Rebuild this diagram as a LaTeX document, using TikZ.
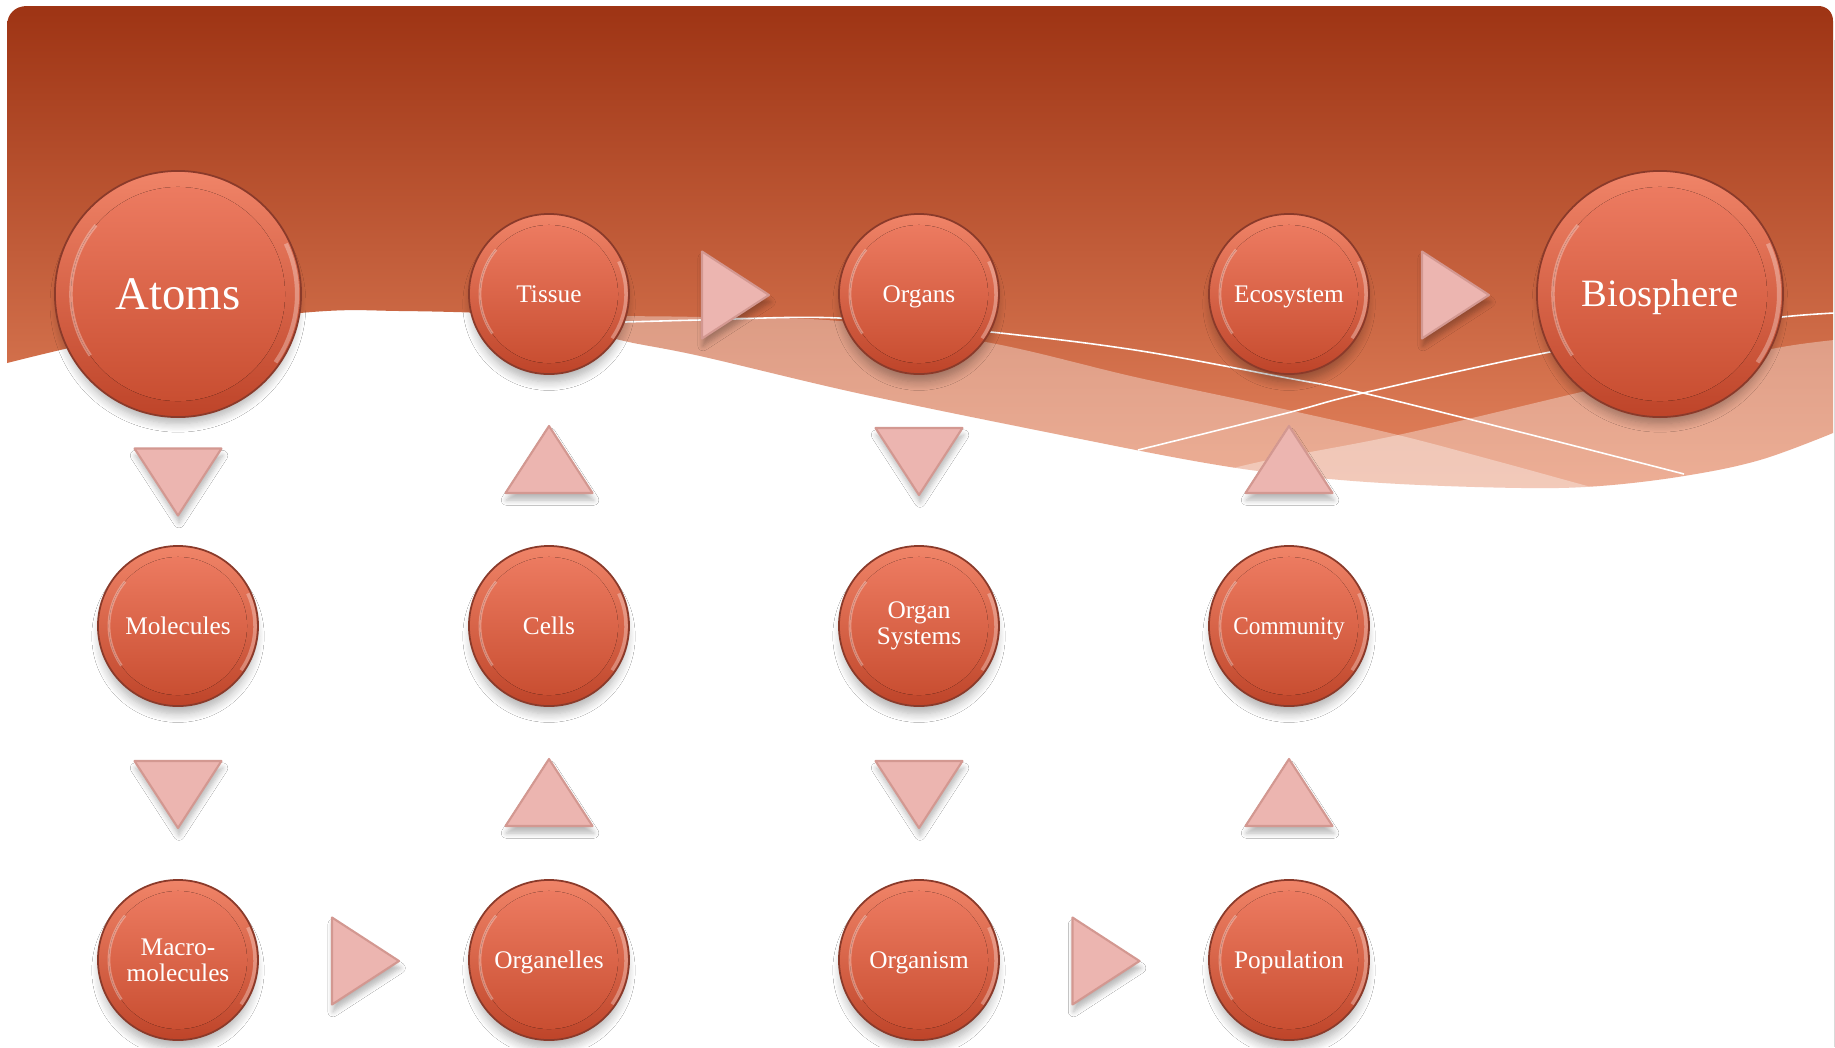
\documentclass[tikz,border=0pt]{standalone}
\usepackage{fontspec}
\setmainfont{Liberation Serif}
\usetikzlibrary{shadows.blur}
\definecolor{bandTop}{HTML}{9E3414}
\definecolor{bandBot}{HTML}{E4845E}
\definecolor{ballTop}{HTML}{F08468}
\definecolor{ballBot}{HTML}{BE4429}
\definecolor{ballEdge}{HTML}{8A3A2A}
\definecolor{inTop}{HTML}{EF7E64}
\definecolor{inBot}{HTML}{C64B2E}
\definecolor{triFill}{HTML}{ECB5B0}
\definecolor{triEdge}{HTML}{D39891}
\begin{document}
\begin{tikzpicture}[x=0.01cm, y=-0.01cm,
  ball/.style={circle, draw=ballEdge, line width=0.5pt, top color=ballTop, bottom color=ballBot,
    text=white, align=center, inner sep=0pt,
    blur shadow={shadow xshift=0pt, shadow yshift=-3pt, shadow scale=0.97, shadow blur radius=2.5pt, shadow blur steps=8, shadow opacity=30}},
  smallball/.style={ball, minimum size=1.6cm, font=\fontsize{7.2}{7.3}\selectfont,
    path picture={
      \fill[top color=inTop, bottom color=inBot] (path picture bounding box.center) circle[radius=0.69cm];
      \draw[white, opacity=0.3, line width=0.8pt] (path picture bounding box.center) ++(140:0.69cm) arc[start angle=140, end angle=215, radius=0.69cm];
      \draw[white, opacity=0.3, line width=1pt] (path picture bounding box.center) ++(-35:0.77cm) arc[start angle=-35, end angle=25, radius=0.77cm];
    }},
  bigball/.style={ball, minimum size=2.46cm,
    path picture={
      \fill[top color=inTop, bottom color=inBot] (path picture bounding box.center) circle[radius=1.07cm];
      \draw[white, opacity=0.3, line width=1pt] (path picture bounding box.center) ++(140:1.07cm) arc[start angle=140, end angle=215, radius=1.07cm];
      \draw[white, opacity=0.3, line width=1.2pt] (path picture bounding box.center) ++(-35:1.19cm) arc[start angle=-35, end angle=25, radius=1.19cm];
    }},
  oneline/.style={text height=4.8pt, text depth=0pt},
  tri/.style={fill=triFill, draw=triEdge, line width=0.6pt, line join=round,
    blur shadow={shadow xshift=0.3pt, shadow yshift=-2pt, shadow blur radius=1.5pt, shadow blur steps=6, shadow opacity=28}},
  triright/.pic={\path[tri] (-33.5,-43.5) -- (33.5,0) -- (-33.5,43.5) -- cycle;},
  tridown/.pic={\path[tri] (-43.5,-33.5) -- (43.5,-33.5) -- (0,33.5) -- cycle;},
  triup/.pic={\path[tri] (-43.5,33.5) -- (43.5,33.5) -- (0,-33.5) -- cycle;},
  wline/.style={white, line width=0.45pt},
  veil/.style={fill=white, fill opacity=0.35}
]
\useasboundingbox (0,0) rectangle (1835,1047);
\fill[white] (0,0) rectangle (1835,1047);

% orange header wave
\path[top color=bandTop, bottom color=bandBot]
  (7,363) -- (7,26) .. controls (7,14) and (15,6) .. (27,6)
  -- (1818,6) .. controls (1827,6) and (1833,12) .. (1833,21)
  -- (1833,433)
  -- plot[smooth, tension=0.6] coordinates {(1833,433) (1760,460) (1684,476) (1600,486) (1523,488) (1400,484) (1300,476) (1200,462) (1036,430) (857,393) (700,356) (620,340) (560,322) (500,314) (400,311) (312,312) (150,331) (7,363)}
  -- cycle;

% translucent bands
\path[veil] plot[smooth, tension=0.6] coordinates {(470,313) (560,315) (620,316) (700,317) (839,321) (991,343) (1135,377) (1270,406) (1398,435) (1500,462) (1580,484) (1640,500)}
  -- (1640,600) -- (470,600) -- cycle;
\path[veil] plot[smooth, tension=0.6] coordinates {(1150,492) (1250,464) (1398,435) (1577,393) (1700,364) (1782,347) (1834,340)}
  -- (1834,600) -- (1150,600) -- cycle;

% thin white lines
\draw[wline] plot[smooth, tension=0.6] coordinates {(560,324) (700,320) (839,318) (991,332) (1135,350) (1282,377) (1363,393) (1520,432) (1684,474)};
\draw[wline] plot[smooth, tension=0.6] coordinates {(1138,450) (1287,413) (1363,393) (1550,352) (1700,328) (1782,317) (1834,313)};

% slide edge shadow
\draw[black!15, line width=0.5pt] (1834.5,40) -- (1834.5,1047);

% circles
\node[bigball, font=\fontsize{13.3}{15}\selectfont] (atoms) at (178,294) {Atoms};
\node[smallball, oneline] (tissue) at (549,294) {Tissue};
\node[smallball, oneline] (organs) at (919,294) {Organs};
\node[smallball, oneline] (ecosystem) at (1289,294) {Ecosystem};
\node[bigball, font=\fontsize{11}{13}\selectfont, text height=7.3pt, text depth=0pt] (biosphere) at (1660,294) {Biosphere};
\node[smallball, oneline] (molecules) at (178,626) {Molecules};
\node[smallball, oneline] (cells) at (549,626) {Cells};
\node[smallball] (organsys) at (919,626) {Organ\\Systems};
\node[smallball, oneline] (community) at (1289,626) {\scalebox{0.92}[1]{Community}};
\node[smallball] (macro) at (178,960) {Macro-\\molecules};
\node[smallball, oneline] (organelles) at (549,960) {Organelles};
\node[smallball, oneline] (organism) at (919,960) {Organism};
\node[smallball, oneline] (population) at (1289,960) {Population};

% triangle arrows
\pic at (178,482) {tridown};
\pic at (178,794.5) {tridown};
\pic at (365.5,961) {triright};
\pic at (549,792.5) {triup};
\pic at (549,459.5) {triup};
\pic at (735.5,295) {triright};
\pic at (919,461.5) {tridown};
\pic at (919,794.5) {tridown};
\pic at (1106,961) {triright};
\pic at (1289,792.5) {triup};
\pic at (1289,459.5) {triup};
\pic at (1455.5,295) {triright};
\end{tikzpicture}
\end{document}
